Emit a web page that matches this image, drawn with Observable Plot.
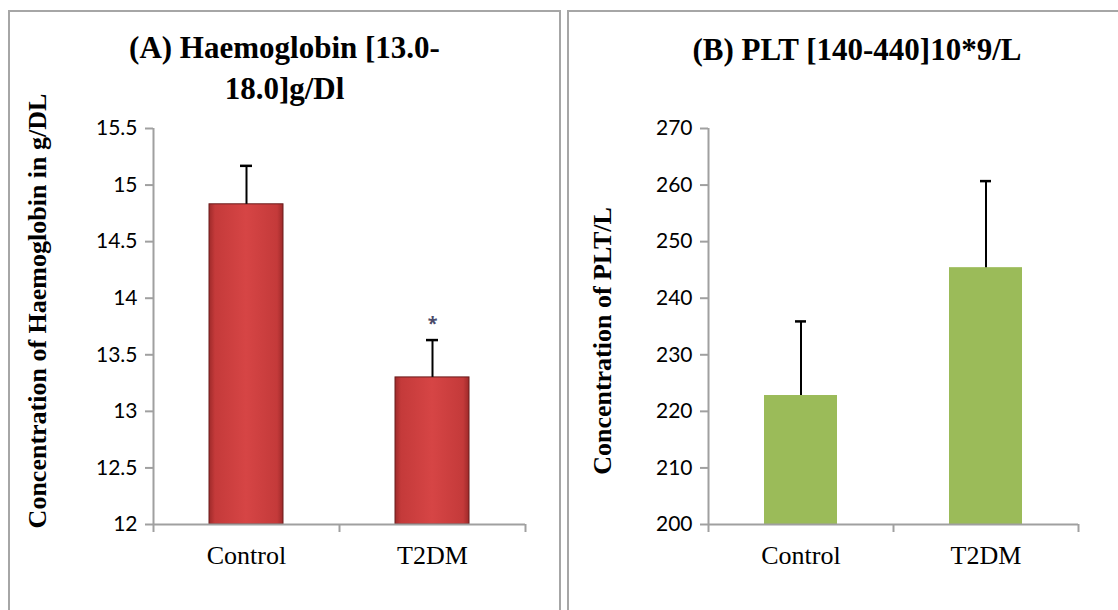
<!DOCTYPE html>
<html>
<head>
<meta charset="utf-8">
<script src="https://cdn.jsdelivr.net/npm/d3@7"></script>
<script src="https://cdn.jsdelivr.net/npm/@observablehq/plot@0.6"></script>
<style>
  html, body { margin: 0; padding: 0; background: #fff; }
  #page { position: relative; width: 1118px; height: 610px; overflow: hidden; background: #fff; }
  .panel { position: absolute; border: 2px solid #a6a6a6; box-sizing: border-box; }
  .chart { position: absolute; top: 0; }
  .title { position: absolute; text-align: center; font-family: "Liberation Serif", "Times New Roman", serif; font-weight: bold; font-size: 31px; line-height: 41px; color: #000; }
  .ylab { position: absolute; transform: translate(-50%, -50%) rotate(-90deg); white-space: nowrap; font-family: "Liberation Serif", "Times New Roman", serif; font-weight: bold; font-size: 26px; color: #000; }
</style>
</head>
<body>
<div id="page">
  <div class="panel" style="left:8px;top:10px;width:553px;height:700px;"></div>
  <div class="panel" style="left:567px;top:10px;width:600px;height:700px;"></div>
  <div id="left" class="chart" style="left:0px;"></div>
  <div id="right" class="chart" style="left:560px;"></div>
  <div class="title" style="left:8px;top:27px;width:553px;">(A) Haemoglobin [13.0-<br>18.0]g/Dl</div>
  <div class="title" style="left:600px;top:29px;width:514px;">(B) PLT [140-440]10*9/L</div>
  <div class="ylab" style="left:38px;top:311px;">Concentration of Haemoglobin in g/DL</div>
  <div class="ylab" style="left:603px;top:341px;">Concentration of PLT/L</div>
</div>
<script>
// ---- data ----
const categories = ["Control", "T2DM"];
const hbMean = [14.83, 13.30];
const hbSD = [0.34, 0.33];
const hbSig = ["", "*"];
const hbSigY = [null, 13.81];
const hbTicks = [12, 12.5, 13, 13.5, 14, 14.5, 15, 15.5];
const pltMean = [222.8, 245.4];
const pltSD = [13.1, 15.3];
const pltTicks = [200, 210, 220, 230, 240, 250, 260, 270];

function makeChart({mean, sd, sig, sigY, ticks, width, marginLeft, marginRight, fill, stroke}) {
  const data = categories.map((c, i) => ({i, c, mean: mean[i], sd: sd[i], sig: sig ? sig[i] : "", sigY: sigY ? sigY[i] : null}));
  const lo = ticks[0], hi = ticks[ticks.length - 1];
  return Plot.plot({
    width, height: 610,
    marginLeft, marginRight, marginTop: 128, marginBottom: 86,
    x: {domain: [0, categories.length], axis: null},
    y: {domain: [lo, hi], axis: null},
    style: {background: "transparent"},
    marks: [
      Plot.rectY(data, {x1: d => d.i, x2: d => d.i + 1, y1: lo, y2: "mean", insetLeft: 56, insetRight: 56, fill, stroke, strokeWidth: stroke ? 1 : 0}),
      Plot.ruleX(data, {x: d => d.i + 0.5, y1: "mean", y2: d => d.mean + d.sd, stroke: "#000", strokeWidth: 2}),
      Plot.ruleY(data, {y: d => d.mean + d.sd, x1: d => d.i, x2: d => d.i + 1, insetLeft: 87, insetRight: 87, stroke: "#000", strokeWidth: 2.5}),
      Plot.ruleX([0], {stroke: "#a0a0a0", strokeWidth: 2}),
      Plot.ruleY([lo], {stroke: "#a0a0a0", strokeWidth: 2}),
      Plot.axisY({ticks, tickSize: 8, tickPadding: 8, stroke: "#a0a0a0", strokeWidth: 2, fontSize: 21, fontFamily: "Lato, 'Open Sans', sans-serif", label: null, tickFormat: d3.format("")}),
      Plot.axisX({ticks: d3.range(categories.length + 1), tickSize: 8, tickFormat: () => "", stroke: "#a0a0a0", strokeWidth: 2, label: null}),
      Plot.axisX({ticks: categories.map((c, i) => i + 0.5), tickSize: 0, tickPadding: 21, tickFormat: v => categories[Math.floor(v)], fontSize: 26, fontFamily: "'Liberation Serif', 'Times New Roman', serif", label: null}),
      Plot.text(data.filter(d => d.sig), {x: d => d.i + 0.5, y: "sigY", text: "sig", fontSize: 18, fontWeight: "bold", fill: "#4a4a6a", dy: 5})
    ]
  });
}

const left = makeChart({mean: hbMean, sd: hbSD, sig: hbSig, sigY: hbSigY, ticks: hbTicks, width: 560, marginLeft: 153, marginRight: 35, fill: "url(#redGrad)", stroke: "#6a1c1c"});
const defs = d3.select(left).insert("defs", ":first-child");
const g = defs.append("linearGradient").attr("id", "redGrad").attr("x1", 0).attr("x2", 1).attr("y1", 0).attr("y2", 0);
[[0, "#9e2a2a"], [0.08, "#c43a3a"], [0.5, "#d64545"], [0.92, "#c43a3a"], [1, "#9e2a2a"]].forEach(([o, c]) => g.append("stop").attr("offset", o).attr("stop-color", c));
document.getElementById("left").appendChild(left);

const right = makeChart({mean: pltMean, sd: pltSD, ticks: pltTicks, width: 558, marginLeft: 148, marginRight: 40, fill: "#9bbb59"});
document.getElementById("right").appendChild(right);
</script>
</body>
</html>
